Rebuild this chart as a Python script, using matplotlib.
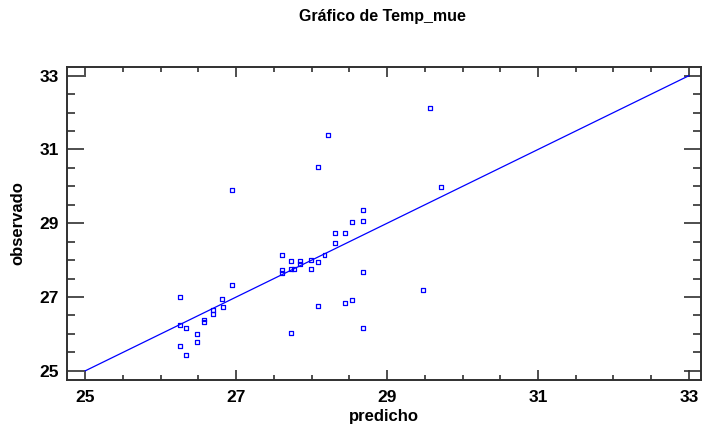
import matplotlib
matplotlib.use("Agg")
import matplotlib.pyplot as plt
from matplotlib.ticker import MultipleLocator

plt.rcParams['font.family'] = ['Liberation Sans', 'DejaVu Sans']

predicho = [29.57, 28.22, 28.08, 29.72, 26.95, 28.68, 28.68, 28.53, 28.44, 28.31,
            28.31, 27.61, 28.17, 27.72, 27.85, 27.85, 27.99, 28.08, 27.61, 27.61,
            27.72, 27.76, 27.99, 28.68, 26.95, 26.81, 26.83, 26.69, 26.69, 26.57,
            26.57, 26.25, 26.25, 26.34, 26.48, 26.48, 26.25, 26.34, 28.08, 28.44,
            28.53, 28.68, 27.72, 29.48]
observado = [32.12, 31.39, 30.52, 29.99, 29.90, 29.36, 29.05, 29.03, 28.73, 28.74,
             28.46, 28.13, 28.13, 27.98, 27.98, 27.89, 28.01, 27.95, 27.72, 27.65,
             27.75, 27.75, 27.77, 27.67, 27.32, 26.94, 26.72, 26.65, 26.53, 26.39,
             26.33, 27.01, 26.24, 26.17, 26.00, 25.78, 25.66, 25.42, 26.76, 26.84,
             26.92, 26.17, 26.03, 27.18]
linea = [25, 33]
ticks = [25, 27, 29, 31, 33]

title = "Gráfico de Temp_mue"
xlabel = "predicho"
ylabel = "observado"

fig = plt.figure(figsize=(7.02, 4.28), dpi=100)
ax = fig.add_axes([0.0954, 0.1121, 0.9032, 0.7314])

ax.plot(linea, linea, color='#0000ff', linewidth=0.9)
ax.scatter(predicho, observado, marker='s', s=8, facecolors='none',
           edgecolors='#0000ff', linewidths=0.9, zorder=3)

ax.set_xlim(24.757, 33.16)
ax.set_ylim(24.75, 33.236)
ax.set_xticks(ticks)
ax.set_yticks(ticks)
ax.xaxis.set_minor_locator(MultipleLocator(0.5))
ax.yaxis.set_minor_locator(MultipleLocator(0.5))

for s in ax.spines.values():
    s.set_linewidth(1.4)
    s.set_color('#303030')

ax.tick_params(axis='both', which='both', direction='in', top=True, right=True,
               color='#303030', width=1.2, labelsize=12.5)
ax.tick_params(axis='x', which='major', length=7, pad=7)
ax.tick_params(axis='x', which='minor', length=3.5)
ax.tick_params(axis='y', which='major', length=12, pad=6)
ax.tick_params(axis='y', which='minor', length=6)
for lab in ax.get_xticklabels() + ax.get_yticklabels():
    lab.set_fontweight('bold')

ax.set_xlabel(xlabel, fontsize=12, fontweight='bold', labelpad=3)
ax.set_ylabel(ylabel, fontsize=12, fontweight='bold', labelpad=10)
fig.text(0.545, 0.962, title, ha='center', va='center', fontsize=11.5, fontweight='bold')

fig.savefig('out.png', dpi=100)
